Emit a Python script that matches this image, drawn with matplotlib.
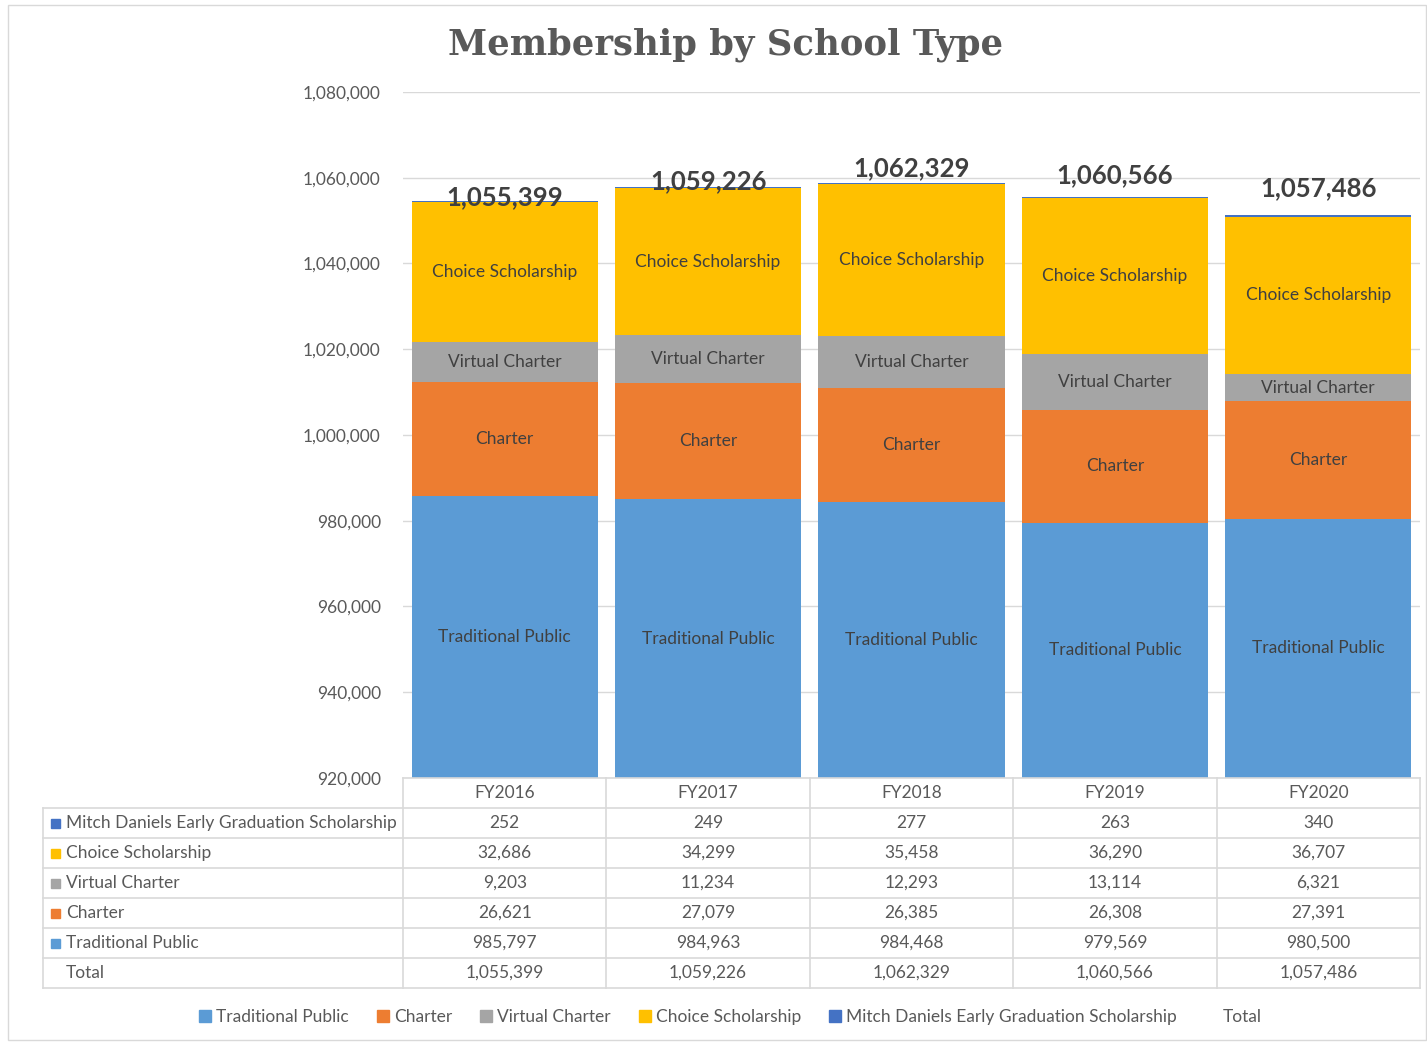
import matplotlib
matplotlib.use("Agg")
import matplotlib.pyplot as plt
import matplotlib.transforms as mtransforms
from matplotlib.patches import Patch, Rectangle
from matplotlib.lines import Line2D

# data
years = ["FY2016", "FY2017", "FY2018", "FY2019", "FY2020"]
traditional = [985797, 984963, 984468, 979569, 980500]
charter = [26621, 27079, 26385, 26308, 27391]
virtual = [9203, 11234, 12293, 13114, 6321]
choice = [32686, 34299, 35458, 36290, 36707]
mitch = [252, 249, 277, 263, 340]
totals = [1055399, 1059226, 1062329, 1060566, 1057486]

series = [
    ("Traditional Public", traditional, "#5B9BD5"),
    ("Charter", charter, "#ED7D31"),
    ("Virtual Charter", virtual, "#A5A5A5"),
    ("Choice Scholarship", choice, "#FFC000"),
    ("Mitch Daniels Early Graduation Scholarship", mitch, "#4472C4"),
]

W, H = 1427, 1042
TXT = "#595959"
GRID = "#D9D9D9"
FONT = "Lato"
YMIN, YMAX = 920000, 1080000

def fy(py):
    return 1 - py / H

def fx(px):
    return px / W

fig = plt.figure(figsize=(W / 100, H / 100), dpi=100)
fig.patches.append(Rectangle((fx(8), fy(1040)), fx(1426) - fx(8), fy(5) - fy(1040),
                             transform=fig.transFigure, fill=False, edgecolor=GRID, lw=1))

left, right = fx(403), fx(1420)
ax = fig.add_axes([left, fy(778), right - left, fy(92) - fy(778)])

x = list(range(len(years)))
bottom = [0.0] * len(years)
for name, vals, col in series:
    ax.bar(x, vals, bottom=bottom, width=0.915, color=col, zorder=2)
    if name != "Mitch Daniels Early Graduation Scholarship":
        for i, v in enumerate(vals):
            # label in the middle of the visible part of the segment
            ymid = (max(bottom[i], YMIN) + bottom[i] + v) / 2
            ax.text(i, ymid, name, ha="center", va="center",
                    fontsize=12.5, color="#404040", family=FONT, zorder=3)
    bottom = [b + v for b, v in zip(bottom, vals)]

for i, t in enumerate(totals):
    ax.text(i, t, f"{t:,}", ha="center", va="center", fontsize=18.5,
            fontweight="bold", color="#404040", family=FONT, zorder=4)

ax.set_ylim(YMIN, YMAX)
ax.set_xlim(-0.5, len(years) - 0.5)
ax.set_yticks(range(YMIN, YMAX + 1, 20000))
ax.yaxis.set_major_formatter(matplotlib.ticker.FuncFormatter(lambda v, p: f"{int(v):,}"))
ax.tick_params(axis="y", length=0, pad=16, labelsize=12.5, labelcolor=TXT)
for lab in ax.get_yticklabels():
    lab.set_family(FONT)
ax.set_xticks([])
ax.grid(axis="y", color=GRID, lw=1, zorder=0)
for s in ax.spines.values():
    s.set_visible(False)

fig.text(fx(726), fy(45), "Membership by School Type", ha="center", va="center",
         fontsize=25.5, fontweight="bold", family="DejaVu Serif", color=TXT)

# data table below the axis
bt = mtransforms.blended_transform_factory(ax.transData, fig.transFigure)
row_h = 30
top_px = 778
rows = [("Mitch Daniels Early Graduation Scholarship", mitch, "#4472C4"),
        ("Choice Scholarship", choice, "#FFC000"),
        ("Virtual Charter", virtual, "#A5A5A5"),
        ("Charter", charter, "#ED7D31"),
        ("Traditional Public", traditional, "#5B9BD5"),
        ("Total", totals, None)]

# horizontal lines
fig.add_artist(Line2D([left, right], [fy(top_px)] * 2, color=GRID, lw=1.2, transform=fig.transFigure))
for r in range(1, len(rows) + 2):
    y = fy(top_px + r * row_h)
    fig.add_artist(Line2D([fx(43), right], [y, y], color=GRID, lw=1.2, transform=fig.transFigure))
# vertical lines
for k in range(len(years) + 1):
    xv = left + (right - left) * k / len(years)
    fig.add_artist(Line2D([xv, xv], [fy(top_px), fy(top_px + 7 * row_h)], color=GRID, lw=1.2,
                          transform=fig.transFigure))
fig.add_artist(Line2D([fx(43), fx(43)], [fy(top_px + row_h), fy(top_px + 7 * row_h)], color=GRID,
                      lw=1.2, transform=fig.transFigure))

for i, yr in enumerate(years):
    fig.text(i, fy(top_px + row_h / 2), yr, transform=bt, ha="center", va="center",
             fontsize=12.5, color=TXT, family=FONT)
for r, (name, vals, col) in enumerate(rows):
    yc = fy(top_px + (r + 1.5) * row_h)
    if col:
        fig.patches.append(Rectangle((fx(51), yc - 4.5 / H), 9 / W, 9 / H, color=col,
                                     transform=fig.transFigure))
    fig.text(fx(66), yc, name, ha="left", va="center", fontsize=12.5, color=TXT, family=FONT)
    for i, v in enumerate(vals):
        fig.text(i, yc, f"{v:,}", transform=bt, ha="center", va="center",
                 fontsize=12.5, color=TXT, family=FONT)

handles = [Patch(color=c, label=n) for n, _, c in series]
handles.append(Patch(color="none", label="Total"))
fig.legend(handles=handles, loc="center", bbox_to_anchor=(fx(730), fy(1017)), ncol=6,
           frameon=False, prop={"family": FONT, "size": 12.5}, labelcolor=TXT,
           handlelength=0.7, handleheight=0.7, handletextpad=0.3, columnspacing=1.6)

fig.savefig("out.png", dpi=100)
